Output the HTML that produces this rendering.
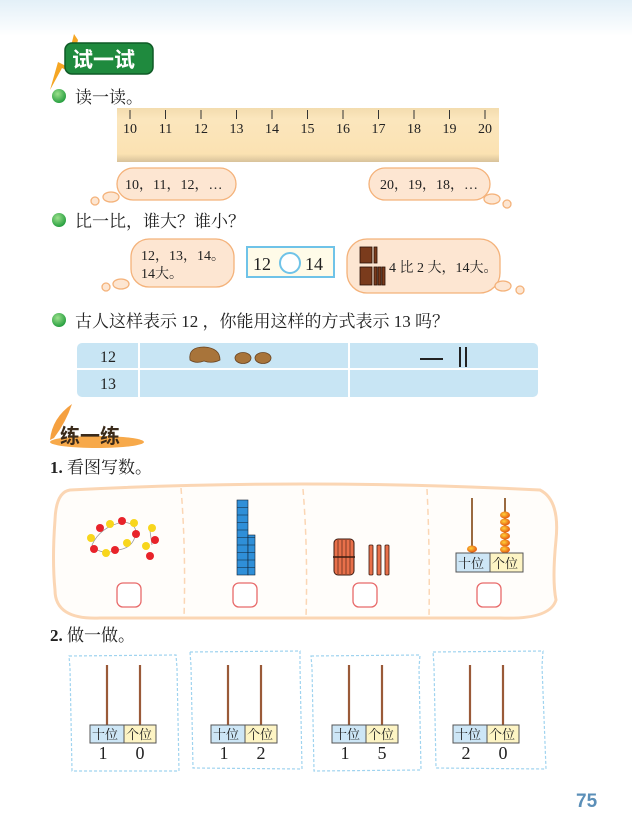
<!DOCTYPE html>
<html><head><meta charset="utf-8"><style>
html,body{margin:0;padding:0;background:#fff;}
svg{display:block;}
text{font-family:"Liberation Serif","Noto Serif CJK SC",serif;fill:#222;}
.k{font-family:"Liberation Sans","Noto Sans CJK SC",sans-serif;}
</style></head><body>
<svg width="632" height="824" viewBox="0 0 632 824" xmlns="http://www.w3.org/2000/svg">
<defs>
<linearGradient id="top" x1="0" y1="0" x2="0" y2="1"><stop offset="0" stop-color="#e3f0f8"/><stop offset="1" stop-color="#fff"/></linearGradient>
<linearGradient id="rul" x1="0" y1="0" x2="0" y2="1"><stop offset="0" stop-color="#f3dcae"/><stop offset="0.2" stop-color="#fbe6bd"/><stop offset="0.85" stop-color="#fbe2b2"/><stop offset="1" stop-color="#d8c29a"/></linearGradient>
<radialGradient id="gb" cx="0.4" cy="0.35" r="0.7"><stop offset="0" stop-color="#9be08c"/><stop offset="1" stop-color="#1e9a3a"/></radialGradient>
<radialGradient id="bead" cx="0.4" cy="0.4" r="0.6"><stop offset="0" stop-color="#ffd23a"/><stop offset="1" stop-color="#e55a10"/></radialGradient>
</defs>
<rect x="0" y="0" width="632" height="36" fill="url(#top)"/>

<!-- 试一试 badge -->
<path d="M50,90 L58,62 L66,66 L74,34 L78,40 L70,72 L62,68 Z" fill="#f5a623"/>
<rect x="65" y="43" width="88" height="31" rx="7" fill="#1f8a3e" stroke="#0f5a26" stroke-width="1.5"/>
<text x="72" y="67" class="k" font-size="21" font-weight="bold" style="fill:#fff">试一试</text>

<!-- bullet 1 -->
<circle cx="59" cy="96" r="7" fill="url(#gb)"/>
<text x="75" y="103" font-size="17">读一读。</text>

<!-- ruler -->
<rect x="117" y="108" width="382" height="54" fill="url(#rul)"/>
<g stroke="#333" stroke-width="1">
<line x1="130" y1="110" x2="130" y2="119"/><line x1="165.5" y1="110" x2="165.5" y2="119"/><line x1="201" y1="110" x2="201" y2="119"/><line x1="236.5" y1="110" x2="236.5" y2="119"/><line x1="272" y1="110" x2="272" y2="119"/><line x1="307.5" y1="110" x2="307.5" y2="119"/><line x1="343" y1="110" x2="343" y2="119"/><line x1="378.5" y1="110" x2="378.5" y2="119"/><line x1="414" y1="110" x2="414" y2="119"/><line x1="449.5" y1="110" x2="449.5" y2="119"/><line x1="485" y1="110" x2="485" y2="119"/>
</g>
<g font-size="14" text-anchor="middle">
<text x="130" y="133">10</text><text x="165.5" y="133">11</text><text x="201" y="133">12</text><text x="236.5" y="133">13</text><text x="272" y="133">14</text><text x="307.5" y="133">15</text><text x="343" y="133">16</text><text x="378.5" y="133">17</text><text x="414" y="133">18</text><text x="449.5" y="133">19</text><text x="485" y="133">20</text>
</g>

<!-- clouds row 1 -->
<g fill="#fde6d2" stroke="#f4b27a" stroke-width="1.3">
<rect x="117" y="168" width="119" height="32" rx="16"/>
<ellipse cx="111" cy="197" rx="8" ry="5"/><circle cx="95" cy="201" r="4"/>
<rect x="369" y="168" width="121" height="32" rx="16"/>
<ellipse cx="492" cy="199" rx="8" ry="5"/><circle cx="507" cy="204" r="4"/>
</g>
<text x="125" y="189" font-size="14">10，11，12，…</text>
<text x="380" y="189" font-size="14">20，19，18，…</text>

<!-- bullet 2 -->
<circle cx="59" cy="220" r="7" fill="url(#gb)"/>
<text x="75" y="227" font-size="17">比一比，谁大？谁小？</text>

<!-- clouds row 2 -->
<g fill="#fde6d2" stroke="#f4b27a" stroke-width="1.3">
<rect x="131" y="239" width="103" height="48" rx="18"/>
<ellipse cx="121" cy="284" rx="8" ry="5"/><circle cx="106" cy="287" r="4"/>
<rect x="347" y="239" width="153" height="54" rx="20"/>
<ellipse cx="503" cy="286" rx="8" ry="5"/><circle cx="520" cy="290" r="4"/>
</g>
<text x="141" y="260" font-size="14">12，13，14。</text>
<text x="141" y="278" font-size="14">14大。</text>
<rect x="247" y="247" width="87" height="30" fill="#fffbe8" stroke="#6fc3e8" stroke-width="2"/>
<text x="253" y="270" font-size="18">12</text>
<circle cx="290" cy="263" r="10" fill="#fff" stroke="#6fc3e8" stroke-width="2"/>
<text x="305" y="270" font-size="18">14</text>
<g fill="#7a3b1c" stroke="#2a1208" stroke-width="0.8">
<rect x="360" y="247" width="12" height="16"/><rect x="374" y="247" width="3" height="16"/>
<rect x="360" y="267" width="12" height="18"/><rect x="374" y="267" width="3" height="18"/><rect x="378" y="267" width="3" height="18"/><rect x="382" y="267" width="3" height="18"/>
</g>
<text x="389" y="272" font-size="14">4 比 2 大，14大。</text>

<!-- bullet 3 -->
<circle cx="59" cy="320" r="7" fill="url(#gb)"/>
<text x="75" y="327" font-size="17">古人这样表示 12 ，你能用这样的方式表示 13 吗？</text>

<!-- table -->
<rect x="77" y="343" width="461" height="54" rx="5" fill="#c8e5f4"/>
<line x1="77" y1="369" x2="538" y2="369" stroke="#fff" stroke-width="2"/>
<line x1="139" y1="343" x2="139" y2="397" stroke="#fff" stroke-width="2"/>
<line x1="349" y1="343" x2="349" y2="397" stroke="#fff" stroke-width="2"/>
<text x="108" y="362" font-size="16" text-anchor="middle">12</text>
<text x="108" y="389" font-size="16" text-anchor="middle">13</text>
<path d="M190,360 Q188,347 204,347 Q220,348 220,360 Q212,364 204,361 Q196,364 190,360Z" fill="#a8743a" stroke="#6a4420" stroke-width="0.8"/>
<ellipse cx="243" cy="358" rx="8" ry="5.5" fill="#a8743a" stroke="#6a4420" stroke-width="0.8"/>
<ellipse cx="263" cy="358" rx="8" ry="5.5" fill="#a8743a" stroke="#6a4420" stroke-width="0.8"/>
<line x1="420" y1="359" x2="443" y2="359" stroke="#222" stroke-width="2"/>
<line x1="460" y1="347" x2="460" y2="367" stroke="#222" stroke-width="2"/>
<line x1="466" y1="347" x2="466" y2="367" stroke="#222" stroke-width="2"/>

<!-- 练一练 -->
<ellipse cx="97" cy="442" rx="47" ry="6" fill="#f7a94a"/>
<path d="M50,440 Q52,418 72,404 Q66,422 54,438Z" fill="#f5a040"/>
<text x="60" y="443" class="k" font-size="20" font-weight="bold" style="fill:#3a2a1a">练一练</text>

<text x="50" y="473" font-size="17"><tspan font-weight="bold">1.</tspan> 看图写数。</text>

<!-- blob -->
<path d="M70,490 Q300,478 540,490 Q560,500 556,540 Q552,580 556,600 Q550,620 500,618 L100,618 Q55,620 55,590 Q52,560 55,520 Q56,492 70,490Z" fill="#fffdfa" stroke="#fbd6b4" stroke-width="3"/>
<g stroke="#fbd6b4" stroke-width="1.5" stroke-dasharray="6,4" fill="none">
<path d="M181,488 Q186,550 184,618"/><path d="M303,489 Q308,550 306,618"/><path d="M427,489 Q430,550 429,618"/>
</g>
<!-- beads chain -->
<g>
<path d="M92,545 Q100,527 123,522 Q135,523 136,532 Q134,548 118,550 Q100,556 92,545Z M150,531 L152,545" fill="none" stroke="#999" stroke-width="0.8"/>
<circle cx="100" cy="528" r="4" fill="#e8232a"/><circle cx="110" cy="524" r="4" fill="#f8d61c"/><circle cx="122" cy="521" r="4" fill="#e8232a"/><circle cx="134" cy="523" r="4" fill="#f8d61c"/><circle cx="136" cy="534" r="4" fill="#e8232a"/><circle cx="127" cy="543" r="4" fill="#f8d61c"/><circle cx="115" cy="550" r="4" fill="#e8232a"/><circle cx="106" cy="553" r="4" fill="#f8d61c"/><circle cx="94" cy="549" r="4" fill="#e8232a"/><circle cx="91" cy="538" r="4" fill="#f8d61c"/>
<circle cx="152" cy="528" r="4" fill="#f8d61c"/><circle cx="155" cy="540" r="4" fill="#e8232a"/><circle cx="146" cy="546" r="4" fill="#f8d61c"/><circle cx="150" cy="556" r="4" fill="#e8232a"/>
</g>
<!-- blocks -->
<g fill="#2f8fd8" stroke="#123" stroke-width="0.6">
<rect x="237" y="500" width="11" height="75"/><rect x="248" y="535" width="7" height="40"/>
</g>
<g stroke="#123" stroke-width="0.5">
<line x1="237" y1="507.5" x2="248" y2="507.5"/><line x1="237" y1="515" x2="248" y2="515"/><line x1="237" y1="522.5" x2="248" y2="522.5"/><line x1="237" y1="530" x2="248" y2="530"/><line x1="237" y1="537.5" x2="255" y2="537.5"/><line x1="237" y1="545" x2="255" y2="545"/><line x1="237" y1="552.5" x2="255" y2="552.5"/><line x1="237" y1="560" x2="255" y2="560"/><line x1="237" y1="567.5" x2="255" y2="567.5"/>
</g>
<!-- bundle -->
<rect x="334" y="539" width="20" height="36" rx="4" fill="#e8704a" stroke="#3a1a10" stroke-width="1"/>
<g stroke="#3a1a10" stroke-width="0.6"><line x1="338" y1="540" x2="338" y2="574"/><line x1="342" y1="540" x2="342" y2="574"/><line x1="346" y1="540" x2="346" y2="574"/><line x1="350" y1="540" x2="350" y2="574"/><line x1="333" y1="557" x2="355" y2="557" stroke-width="1.5"/></g>
<g fill="#e8704a" stroke="#3a1a10" stroke-width="0.8"><rect x="369" y="545" width="4" height="30" rx="1"/><rect x="377" y="545" width="4" height="30" rx="1"/><rect x="385" y="545" width="4" height="30" rx="1"/></g>
<!-- abacus 1 -->
<line x1="472" y1="498" x2="472" y2="553" stroke="#9a6a40" stroke-width="2"/>
<line x1="505" y1="498" x2="505" y2="553" stroke="#9a6a40" stroke-width="2"/>
<ellipse cx="472" cy="549" rx="5" ry="3.5" fill="url(#bead)"/>
<g fill="url(#bead)"><ellipse cx="505" cy="515" rx="5" ry="3.5"/><ellipse cx="505" cy="522" rx="5" ry="3.5"/><ellipse cx="505" cy="529" rx="5" ry="3.5"/><ellipse cx="505" cy="536" rx="5" ry="3.5"/><ellipse cx="505" cy="543" rx="5" ry="3.5"/><ellipse cx="505" cy="549.5" rx="5" ry="3.5"/></g>
<rect x="456" y="553" width="34" height="19" fill="#cde6f6" stroke="#555"/><rect x="490" y="553" width="33" height="19" fill="#fdf4c4" stroke="#555"/>
<text x="458" y="568" font-size="13">十位</text><text x="492" y="568" font-size="13">个位</text>
<!-- red boxes -->
<g fill="#fff" stroke="#e86a6a" stroke-width="1.3">
<rect x="117" y="583" width="24" height="24" rx="6"/><rect x="233" y="583" width="24" height="24" rx="6"/><rect x="353" y="583" width="24" height="24" rx="6"/><rect x="477" y="583" width="24" height="24" rx="6"/>
</g>

<text x="50" y="641" font-size="17"><tspan font-weight="bold">2.</tspan> 做一做。</text>

<!-- cards -->
<g fill="#fff" stroke="#9fd3ef" stroke-width="1.2" stroke-dasharray="3,2">
<path d="M69,656 L176,655 L177,668 L179,771 L72,771 L70,668Z"/>
<path d="M190,652 L300,651 L300,666 L302,769 L193,768 L191,666Z"/>
<path d="M311,656 L420,655 L419,668 L421,770 L314,771 L312,668Z"/>
<path d="M433,652 L543,651 L542,666 L546,769 L436,768 L434,666Z"/>
</g>
<g stroke="#9a5a38" stroke-width="2.2">
<line x1="107" y1="665" x2="107" y2="725"/><line x1="140" y1="665" x2="140" y2="725"/>
<line x1="228" y1="665" x2="228" y2="725"/><line x1="261" y1="665" x2="261" y2="725"/>
<line x1="349" y1="665" x2="349" y2="725"/><line x1="382" y1="665" x2="382" y2="725"/>
<line x1="470" y1="665" x2="470" y2="725"/><line x1="503" y1="665" x2="503" y2="725"/>
</g>
<g stroke="#555" stroke-width="1">
<rect x="90" y="725" width="34" height="18" fill="#cde6f6"/><rect x="124" y="725" width="32" height="18" fill="#fdf4c4"/>
<rect x="211" y="725" width="34" height="18" fill="#cde6f6"/><rect x="245" y="725" width="32" height="18" fill="#fdf4c4"/>
<rect x="332" y="725" width="34" height="18" fill="#cde6f6"/><rect x="366" y="725" width="32" height="18" fill="#fdf4c4"/>
<rect x="453" y="725" width="34" height="18" fill="#cde6f6"/><rect x="487" y="725" width="32" height="18" fill="#fdf4c4"/>
</g>
<g font-size="13">
<text x="92" y="739">十位</text><text x="126" y="739">个位</text>
<text x="213" y="739">十位</text><text x="247" y="739">个位</text>
<text x="334" y="739">十位</text><text x="368" y="739">个位</text>
<text x="455" y="739">十位</text><text x="489" y="739">个位</text>
</g>
<g font-size="18" text-anchor="middle">
<text x="103" y="759">1</text><text x="140" y="759">0</text>
<text x="224" y="759">1</text><text x="261" y="759">2</text>
<text x="345" y="759">1</text><text x="382" y="759">5</text>
<text x="466" y="759">2</text><text x="503" y="759">0</text>
</g>

<text x="576" y="807" class="k" font-size="19" font-weight="bold" style="fill:#5b8fb8">75</text>
</svg>
</body></html>
